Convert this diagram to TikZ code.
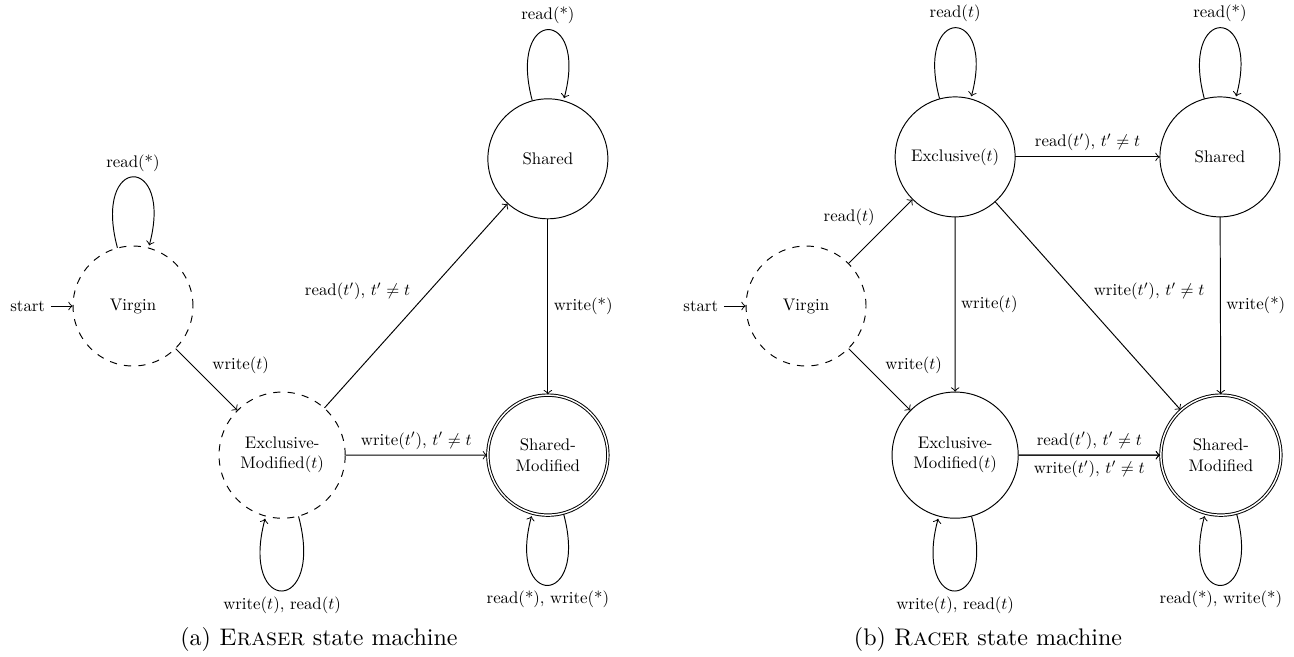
\documentclass[tikz,border=0pt]{standalone}
\usetikzlibrary{automata,positioning}
\begin{document}
\begin{tikzpicture}[>=to, auto,
    every state/.append style={minimum size=2.51cm},
    provisional/.style={dashed},
    ampliado/.style={minimum size=2.64cm}]
    % Marco de la figura
    \useasboundingbox (0,0) rectangle (18.952,-9.608);

    % (a) Maquina de estados de Eraser
    \begin{scope}[shift={(1.948,-4.482)}, scale=0.7, transform shape]
        \node[state, initial, provisional] (Va) at (0,0) {Virgin};
        \node[state, provisional, ampliado, align=center] (EMa) at (3.12,-3.12) {Exclusive-\\Modified($t$)};
        \node[state] (Sa) at (8.68,3.08) {Shared};
        \node[state, accepting, align=center] (SMa) at (8.68,-3.12) {Shared-\\Modified};

        % Transiciones
        \path[->] (Va) edge[loop above] node {read(*)} ()
                       edge node {write($t$)} (EMa)
                  (EMa) edge node {read($t'$), $t' \neq t$} (Sa)
                        edge node {write($t'$), $t' \neq t$} (SMa)
                        edge[loop below] node {write($t$), read($t$)} ()
                  (Sa) edge[loop above] node {read(*)} ()
                       edge node {write(*)} (SMa)
                  (SMa) edge[loop below] node {read(*), write(*)} ();
    \end{scope}

    % (b) Maquina de estados de Racer
    \begin{scope}[shift={(11.805,-4.482)}, scale=0.7, transform shape]
        \node[state, initial, provisional] (Vb) at (0,0) {Virgin};
        \node[state] (Eb) at (3.12,3.12) {Exclusive($t$)};
        \node[state] (Sb) at (8.66,3.12) {Shared};
        \node[state, ampliado, align=center] (EMb) at (3.12,-3.12) {Exclusive-\\Modified($t$)};
        \node[state, accepting, align=center] (SMb) at (8.68,-3.12) {Shared-\\Modified};

        % Transiciones
        \path[->] (Vb) edge node {read($t$)} (Eb)
                       edge node {write($t$)} (EMb)
                  (Eb) edge[loop above] node {read($t$)} ()
                       edge node {read($t'$), $t' \neq t$} (Sb)
                       edge node {write($t$)} (EMb)
                       edge node {write($t'$), $t' \neq t$} (SMb)
                  (Sb) edge[loop above] node {read(*)} ()
                       edge node {write(*)} (SMb)
                  (EMb) edge[loop below] node {write($t$), read($t$)} ()
                        edge node {read($t'$), $t' \neq t$} (SMb)
                        edge node[swap] {write($t'$), $t' \neq t$} (SMb)
                  (SMb) edge[loop below] node {read(*), write(*)} ();
    \end{scope}

    % Leyendas
    \node (capa) at (4.672,-9.373) {(a) \textsc{Eraser} state machine};
    \node (capb) at (14.47,-9.373) {(b) \textsc{Racer} state machine};
\end{tikzpicture}
\end{document}
